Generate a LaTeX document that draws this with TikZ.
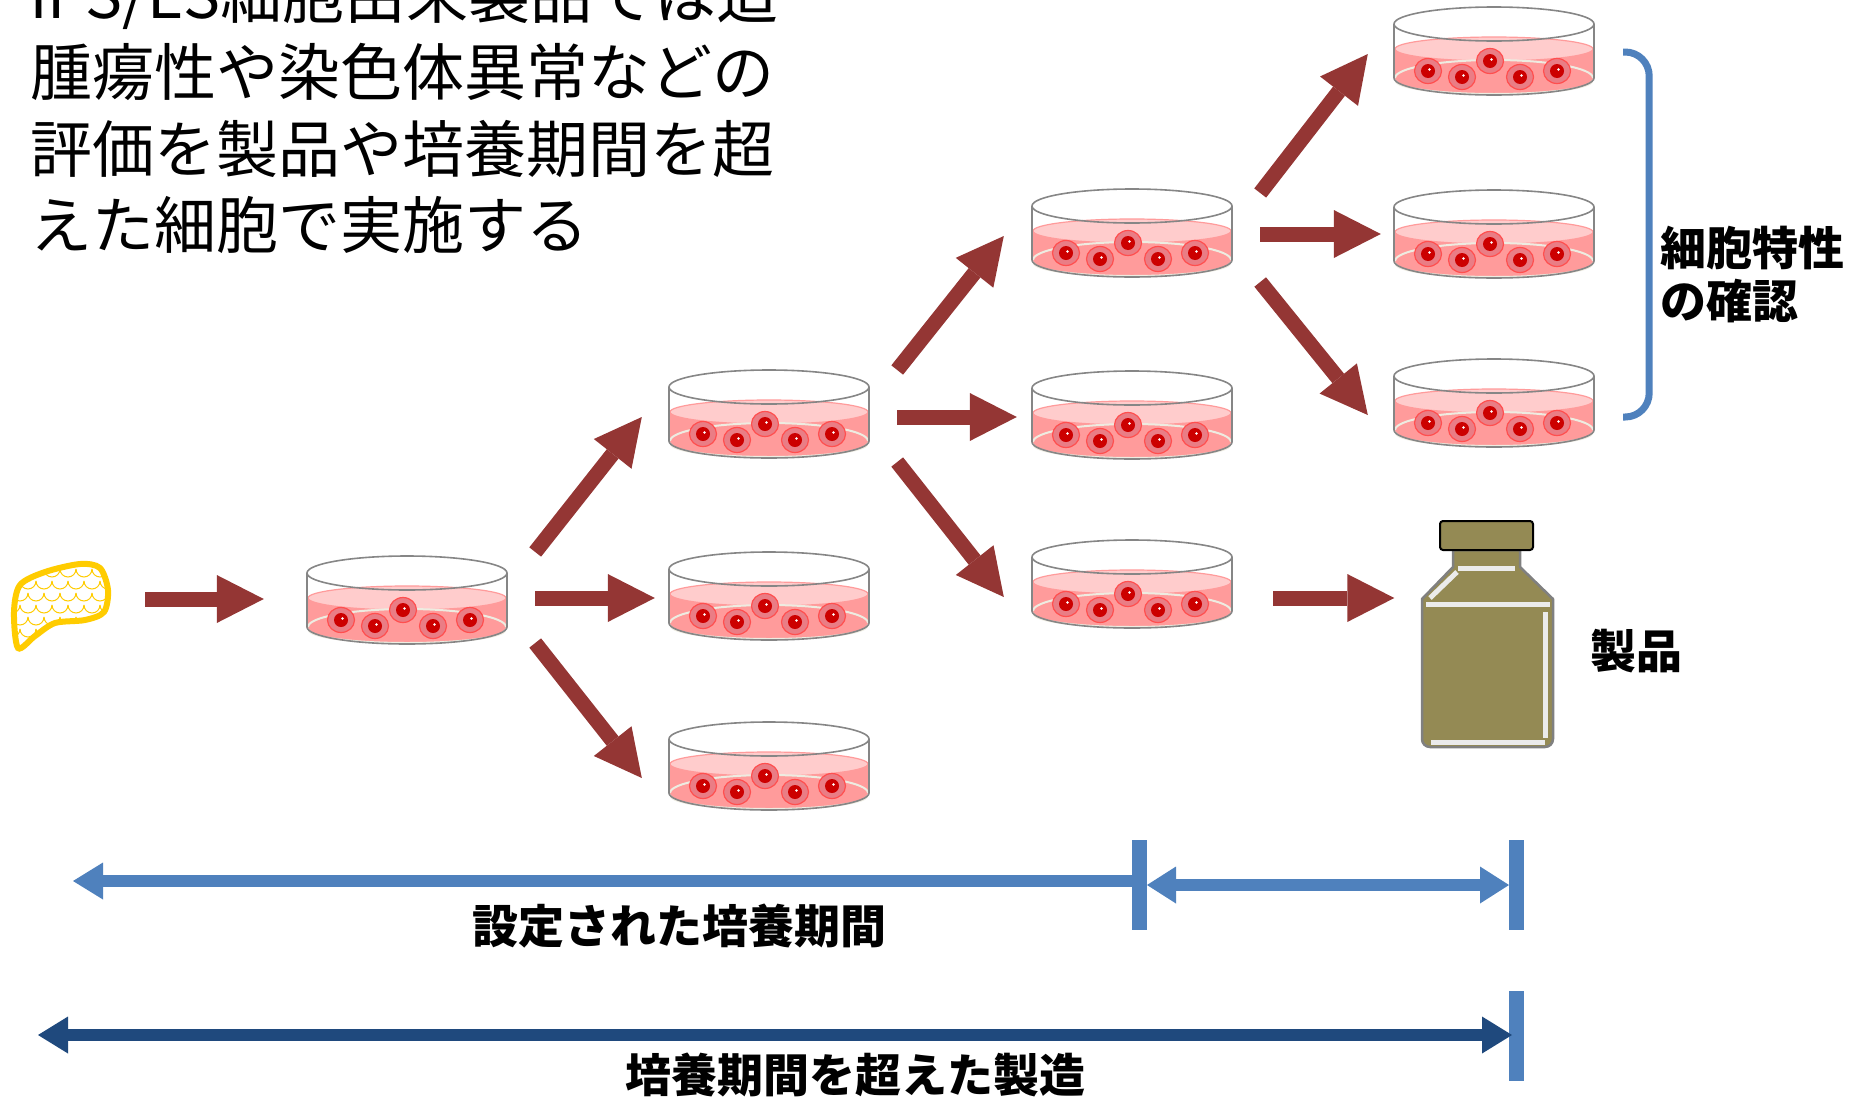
\documentclass[tikz,border=0pt]{standalone}
\usepackage{fontspec}
\newfontfamily\jp{Noto Sans CJK JP}
\usetikzlibrary{arrows.meta}

\definecolor{arrowred}{HTML}{943634}
\definecolor{barblue}{HTML}{4F81BD}
\definecolor{navy}{HTML}{1F497D}
\definecolor{medlight}{HTML}{FFCCCC}
\definecolor{meddeep}{HTML}{FF9B9B}
\definecolor{cream}{HTML}{EEECE1}
\definecolor{cellbody}{HTML}{EA7D85}
\definecolor{cellrim}{HTML}{FF4F4F}
\definecolor{nucl}{HTML}{CC0000}
\definecolor{olive}{HTML}{948A54}
\definecolor{liver}{HTML}{FFCC00}

\providecommand{\Cell}[1]{
\begin{scope}[shift={(#1)}]
\draw[cellwall] (0,0) ellipse [x radius=13.5,y radius=12.5];
\fill[nucl] (0,0) circle [radius=7];
\fill[white] (1.5,-1.5) circle [radius=1.3];
\end{scope}
}
\providecommand{\Dish}[1]{
\begin{scope}[shift={(#1)}]
\fill[meddeep] (-99,-2) -- (-99,27) arc [start angle=180,end angle=0,x radius=99,y radius=17] -- (99,-2) -- cycle;
\draw[topmedium] (0,-2) ellipse [x radius=99,y radius=12];
\draw[floorline] (-99,27) arc [start angle=180,end angle=360,x radius=99,y radius=18];
\foreach \p in {{-66,20},{-32,26},{-4,10},{26,26},{63,20}} {\Cell{\p}}
\draw[floorline] (-98,30) arc [start angle=180,end angle=0,x radius=98,y radius=13];
\draw[rim] (-100,27) arc [start angle=180,end angle=0,x radius=100,y radius=17];
\draw[rim] (-100,-27) -- (-100,27) (100,-27) -- (100,27);
\draw[rim] (0,-27) ellipse [x radius=100,y radius=17];
\end{scope}
}
\providecommand{\Vial}[1]{
\begin{scope}[shift={(#1)}]
\draw[glass] (-34,-84) -- (-34,-67) -- (-65,-35) -- (-65,105) to[out=-90,in=180] (-57,113)
  -- (58,113) to[out=0,in=-90] (66,105) -- (66,-35) -- (33,-67) -- (33,-84) -- cycle;
\draw[shine] (-29,-66) -- (28,-66);
\draw[shine] (-57,-36) -- (-30,-62);
\draw[shine] (-61,-30) -- (63,-30);
\draw[shine] (58,-22) -- (58,104);
\draw[shine] (-56,108) -- (58,108);
\draw[vialcap, rounded corners=3pt] (-47,-113) rectangle (46,-84);
\end{scope}
}
\providecommand{\Tissue}[1]{
\begin{scope}[shift={(#1)}]
\begin{scope}
\clip plot[smooth cycle] coordinates {(-42,41) (-46,5) (-40,-22) (-15,-35) (20,-43) (40,-39) (48,-17) (44,5) (25,13) (-5,16) (-25,29)};
\foreach \r in {0,...,8} \foreach \c in {0,...,6}
  \draw[scales] ({\c*16-56+mod(\r,2)*8},{\r*12-50}) arc [start angle=180,end angle=0,radius=8];
\end{scope}
\draw[liverline] plot[smooth cycle] coordinates {(-42,41) (-46,5) (-40,-22) (-15,-35) (20,-43) (40,-39) (48,-17) (44,5) (25,13) (-5,16) (-25,29)};
\end{scope}
}

\begin{document}
\begin{tikzpicture}[x=1pt,y=-1pt,
  rim/.style={draw=gray!95,line width=1.6pt},
  topmedium/.style={fill=medlight,draw=meddeep,line width=1.2pt},
  floorline/.style={draw=cream,line width=2pt},
  cellwall/.style={fill=cellbody,draw=cellrim,line width=1.2pt},
  glass/.style={fill=olive,draw=gray,line width=2.5pt,line join=round},
  shine/.style={draw=white!92!black,line width=5pt},
  vialcap/.style={fill=olive,draw=black,line width=2pt},
  scales/.style={draw=liver,line width=1pt},
  liverline/.style={draw=liver,line width=6pt},
  dishbox/.style={minimum width=200pt,minimum height=88pt,inner sep=0pt},
  fan/.style={draw=arrowred,line width=15pt,-{Triangle[width=48pt,length=47pt,line width=0pt]}},
  period/.style={draw=barblue,line width=12pt},
  tick/.style={draw=barblue,line width=15pt},
  intro/.style={anchor=base west,inner sep=0pt,font=\jp\fontsize{62}{74}\selectfont},
  lab/.style={inner sep=0pt,font=\jp\bfseries\fontsize{46}{53}\selectfont}]
\fill[white] (0,0) rectangle (1858,1098);
\useasboundingbox (0,0) rectangle (1858,1098);

\node[intro] (intro0) at (30,18) {iPS/ES細胞由来製品では造};
\node[intro] (intro1) at (30,95) {腫瘍性や染色体異常などの};
\node[intro] (intro2) at (30,172) {評価を製品や培養期間を超};
\node[intro] (intro3) at (30,248) {えた細胞で実施する};

\node[minimum width=96pt,minimum height=86pt,inner sep=0pt] (tissue) at (60,607) {};
\Tissue{tissue}
\node[dishbox] (d0) at (407,600) {};
\node[dishbox] (d21) at (769,414) {};
\node[dishbox] (d22) at (769,596) {};
\node[dishbox] (d23) at (769,766) {};
\node[dishbox] (d31) at (1132,233) {};
\node[dishbox] (d32) at (1132,415) {};
\node[dishbox] (d33) at (1132,584) {};
\node[dishbox] (d41) at (1494,51) {};
\node[dishbox] (d42) at (1494,234) {};
\node[dishbox] (d43) at (1494,403) {};
\foreach \d in {d0,d21,d22,d23,d31,d32,d33,d41,d42,d43} {\Dish{\d}}
\node[minimum width=131pt,minimum height=227pt,inner sep=0pt] (vial) at (1487,634) {};
\Vial{vial}

\draw[fan] ([shift={(37,-8)}]tissue.east) -- ([shift={(-43,-1)}]d0.west);
\draw[fan] ([shift={(28,-48)}]d0.east) -- ([shift={(-27,3)}]d21.west);
\draw[fan] ([shift={(28,-2)}]d0.east) -- ([shift={(-14,2)}]d22.west);
\draw[fan] ([shift={(28,43)}]d0.east) -- ([shift={(-27,12)}]d23.west);
\draw[fan] ([shift={(28,-44)}]d21.east) -- ([shift={(-28,3)}]d31.west);
\draw[fan] ([shift={(28,3)}]d21.east) -- ([shift={(-15,2)}]d32.west);
\draw[fan] ([shift={(28,48)}]d21.east) -- ([shift={(-28,13)}]d33.west);
\draw[fan] ([shift={(28,-40)}]d31.east) -- ([shift={(-26,3)}]d41.west);
\draw[fan] ([shift={(28,1)}]d31.east) -- ([shift={(-13,0)}]d42.west);
\draw[fan] ([shift={(28,49)}]d31.east) -- ([shift={(-26,12)}]d43.west);
\draw[fan] ([shift={(41,14)}]d33.east) -- ([shift={(-27,-36)}]vial.west);

\draw[draw=barblue,line width=7pt,rounded corners=24pt] ([shift={(29,1)}]d41.east) -| ([shift={(55,14)}]d43.east) -- ([shift={(29,14)}]d43.east);
\node[lab,anchor=base west] (chk1) at (1660,265) {細胞特性};
\node[lab,anchor=base west] (chk2) at (1660,318) {の確認};
\node[lab,anchor=base west] (prod) at (1590,668) {製品};

\coordinate (setstart) at (73,881);
\coordinate (setend) at (1139,881);
\coordinate (extstart) at (1147,885);
\coordinate (extstop) at (1509,885);
\coordinate (allstart) at (38,1035);
\coordinate (allstop) at (1512,1035);
\draw[tick] (1139,840) -- (1139,930);
\draw[tick] (1516,840) -- (1516,930);
\draw[tick] (1516,991) -- (1516,1081);
\draw[period,{Triangle[width=37pt,length=30pt,line width=0pt]}-] (setstart) -- (setend);
\draw[period,{Triangle[width=37pt,length=29pt,line width=0pt]}-{Triangle[width=37pt,length=29pt,line width=0pt]}] (extstart) -- (extstop);
\draw[period,draw=navy,{Triangle[width=37pt,length=30pt,line width=0pt]}-{Triangle[width=37pt,length=30pt,line width=0pt]}] (allstart) -- (allstop);
\node[lab,anchor=base] (setlabel) at (679,943) {設定された培養期間};
\node[lab,anchor=base] (overlabel) at (855,1092) {培養期間を超えた製造};
\end{tikzpicture}
\end{document}
